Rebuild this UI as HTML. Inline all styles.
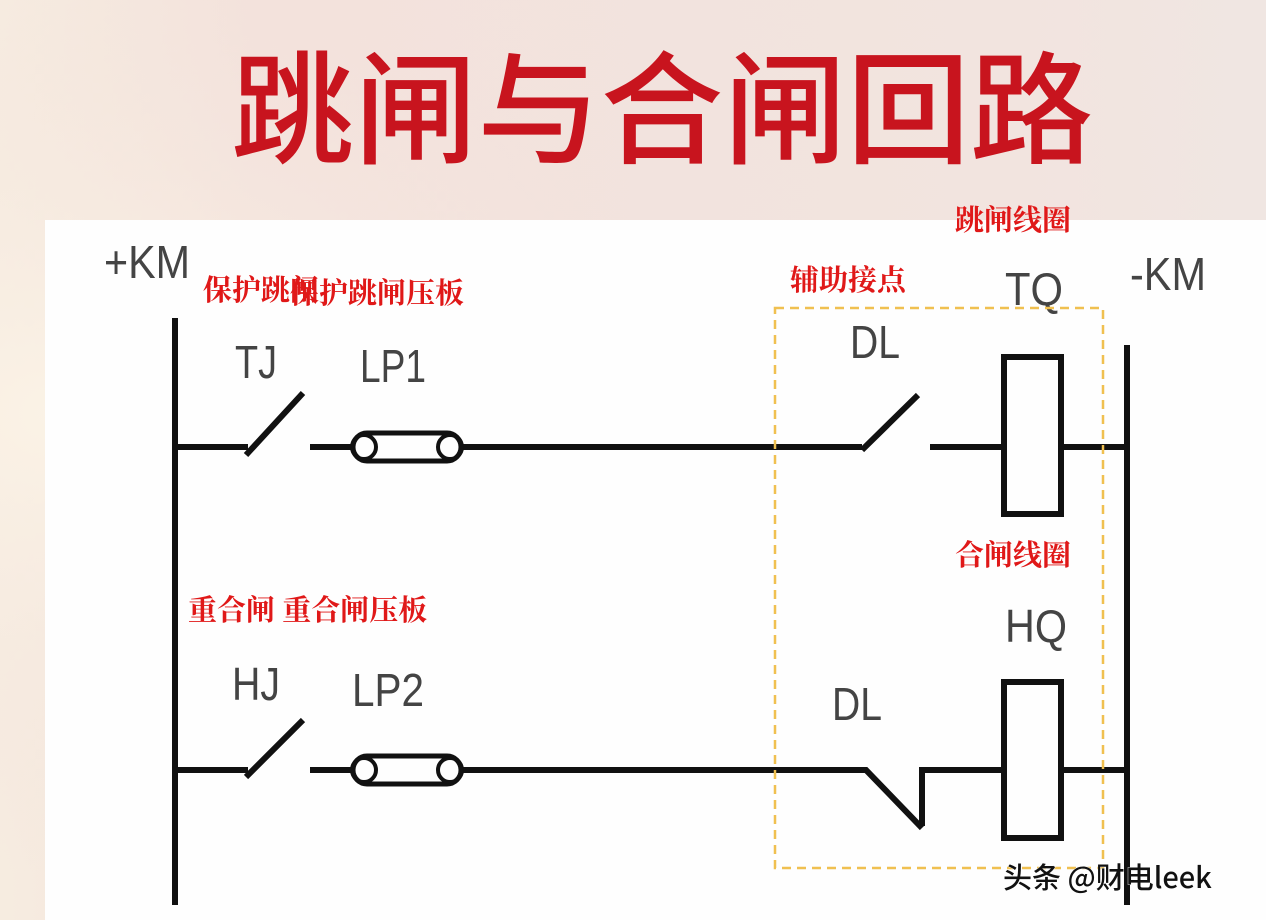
<!DOCTYPE html>
<html><head><meta charset="utf-8"><style>
html,body{margin:0;padding:0;width:1266px;height:920px;overflow:hidden}
body{background:linear-gradient(90deg,#f6ece0 0%,#f3e2dc 20%,#f2e4df 80%,#f0e6e2 100%)}
</style></head><body>
<svg width="1266" height="920" viewBox="0 0 1266 920" xmlns="http://www.w3.org/2000/svg">
<defs><radialGradient id="g" cx="0.05" cy="0.45" r="0.5"><stop offset="0" stop-color="#fbf3e6"/><stop offset="1" stop-color="#f3e2dc" stop-opacity="0"/></radialGradient></defs>
<rect width="1266" height="920" fill="url(#g)"/>
<rect x="45" y="220" width="1221" height="700" fill="#fefefe"/>
<text x="662" y="154" text-anchor="middle" font-family="'Noto Sans CJK SC',sans-serif" font-weight="500" font-size="122" fill="#c8141e" textLength="862" lengthAdjust="spacingAndGlyphs">跳闸与合闸回路</text>
<g font-family="'Liberation Sans',sans-serif" fill="#444" font-size="46">
<text x="104" y="278" textLength="86" lengthAdjust="spacingAndGlyphs">+KM</text>
<text x="1130" y="290" textLength="76" lengthAdjust="spacingAndGlyphs">-KM</text>
<text x="235" y="378" textLength="42" lengthAdjust="spacingAndGlyphs">TJ</text>
<text x="360" y="382" textLength="66" lengthAdjust="spacingAndGlyphs">LP1</text>
<text x="850" y="358" textLength="50" lengthAdjust="spacingAndGlyphs">DL</text>
<text x="1005" y="305" textLength="58" lengthAdjust="spacingAndGlyphs">TQ</text>
<text x="1005" y="642" textLength="62" lengthAdjust="spacingAndGlyphs">HQ</text>
<text x="232" y="700" textLength="48" lengthAdjust="spacingAndGlyphs">HJ</text>
<text x="352" y="706" textLength="72" lengthAdjust="spacingAndGlyphs">LP2</text>
<text x="832" y="720" textLength="50" lengthAdjust="spacingAndGlyphs">DL</text>
</g>
<g font-family="'Noto Serif CJK SC','Noto Sans CJK SC',sans-serif" font-weight="bold" fill="#e01818" font-size="29">
<text x="203" y="300">保护跳闸</text>
<text x="290" y="303">保护跳闸压板</text>
<text x="790" y="290">辅助接点</text>
<text x="955" y="230">跳闸线圈</text>
<text x="955" y="565">合闸线圈</text>
<text x="188" y="620">重合闸 重合闸压板</text>
</g>
<g stroke="#111" stroke-width="6" fill="none">
<line x1="175" y1="318" x2="175" y2="905"/>
<line x1="1127" y1="345" x2="1127" y2="905"/>
<path d="M175 447H248M246 455L303 393M310 447H352M462 447H862M862 450L918 395M930 447H1003M1062 447H1127"/>
<rect x="1004" y="357" width="57" height="157"/>
<rect x="353" y="433" width="108" height="28" rx="14" stroke-width="5"/>
<circle cx="364" cy="447" r="12" stroke-width="4"/><circle cx="450" cy="447" r="12" stroke-width="4"/>
<path d="M175 770H248M246 777L303 720M310 770H352M462 770H866L922 828M922 826V770H1003M1062 770H1127"/>
<rect x="1004" y="682" width="57" height="156"/>
<rect x="353" y="756" width="108" height="28" rx="14" stroke-width="5"/>
<circle cx="364" cy="770" r="12" stroke-width="4"/><circle cx="450" cy="770" r="12" stroke-width="4"/>
</g>
<rect x="775" y="308" width="328" height="560" fill="none" stroke="#f0c050" stroke-width="2.5" stroke-dasharray="9,6"/>
<text x="1003" y="888" font-family="'Noto Sans CJK SC',sans-serif" font-weight="500" font-size="29" fill="#111" stroke="#fff" stroke-width="0.8" paint-order="stroke">头条 @财电leek</text>
</svg>
</body></html>
